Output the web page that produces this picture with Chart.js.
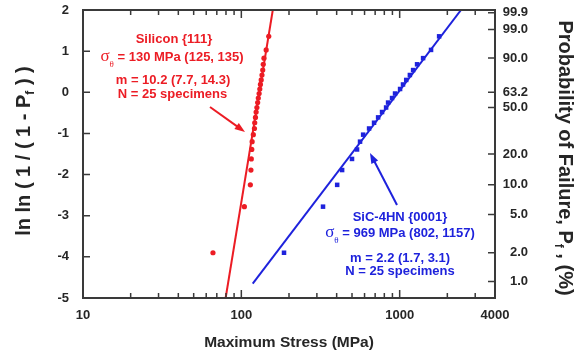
<!DOCTYPE html>
<html>
<head>
<meta charset="utf-8">
<script src="https://cdn.jsdelivr.net/npm/chart.js@4.4.1/dist/chart.umd.min.js"></script>
<style>
  html, body { margin: 0; padding: 0; background: #fff; }
  #wrap { width: 579px; height: 356px; position: relative; }
</style>
</head>
<body>
<div id="wrap"><canvas id="weibull"></canvas></div>
<script>
// Weibull plotting positions ln ln(1/(1-Pf)) (25 specimens)
const rankY = [-3.90, -2.78, -2.25, -1.89, -1.62, -1.39, -1.20, -1.03, -0.88, -0.74,
               -0.61, -0.48, -0.37, -0.25, -0.14, -0.03, 0.08, 0.19, 0.30, 0.42,
               0.54, 0.68, 0.83, 1.03, 1.36];

// Silicon {111} strengths (MPa)
const siliconStress = [66.2, 104.5, 114, 115, 115.6, 116.4, 117, 119, 121, 121.5,
                       122.8, 124, 125.4, 126.8, 128, 129.5, 130.8, 132, 133.5, 135,
                       136.5, 137.5, 139, 143.5, 149];

// SiC-4HN {0001} strengths (MPa)
const sicStress = [186, 328, 403, 433, 500, 538, 562, 588, 641, 689,
                   731, 774, 821, 845, 895, 935, 1006, 1050, 1100, 1160,
                   1216, 1288, 1406, 1578, 1775];

// fitted Weibull lines (end points)
const siliconFitX = [79.6, 158];
const siliconFitY = [-5, 2];
const sicFitX = [118, 2440];
const sicFitY = [-4.65, 2];

// axis ticks
const xTickValues = [10, 20, 30, 40, 50, 60, 70, 80, 90, 100, 200, 300, 400, 500, 600, 700, 800, 900, 1000, 2000, 3000, 4000];
const xTickLabels = ['10', '', '', '', '', '', '', '', '', '100', '', '', '', '', '', '', '', '', '1000', '', '', '4000'];
const probTickPos = [1.933, 1.527, 0.834, 0.0, -0.367, -1.500, -2.250, -2.970, -3.902, -4.600];
const probTickLabels = ['99.9', '99.0', '90.0', '63.2', '50.0', '20.0', '10.0', '5.0', '2.0', '1.0'];

const RED = '#ec1c24';
const BLUE = '#1e22dc';
const INK = '#262626';
const SANS = "'Liberation Sans', Arial, sans-serif";
const SERIF = "'Liberation Serif', 'Times New Roman', serif";

const toPoints = (xs, ys) => xs.map((x, i) => ({ x: x, y: ys[i] }));

// draw a line of text made of several runs (for subscripts)
function drawRuns(ctx, runs, cx, cy, color) {
    let total = 0;
    runs.forEach(r => { ctx.font = r.font; total += ctx.measureText(r.text).width; });
    let x = cx - total / 2;
    ctx.fillStyle = color;
    ctx.textAlign = 'left';
    ctx.textBaseline = 'middle';
    runs.forEach(r => {
        ctx.font = r.font;
        ctx.fillText(r.text, x, cy + (r.dy || 0));
        x += ctx.measureText(r.text).width;
    });
}

function drawArrow(ctx, x1, y1, x2, y2, color) {
    const ang = Math.atan2(y2 - y1, x2 - x1);
    const head = 11;
    ctx.strokeStyle = color;
    ctx.fillStyle = color;
    ctx.lineWidth = 2;
    ctx.beginPath();
    ctx.moveTo(x1, y1);
    ctx.lineTo(x2 - Math.cos(ang) * head * 0.8, y2 - Math.sin(ang) * head * 0.8);
    ctx.stroke();
    ctx.beginPath();
    ctx.moveTo(x2, y2);
    ctx.lineTo(x2 - head * Math.cos(ang - 0.35), y2 - head * Math.sin(ang - 0.35));
    ctx.lineTo(x2 - head * Math.cos(ang + 0.35), y2 - head * Math.sin(ang + 0.35));
    ctx.closePath();
    ctx.fill();
}

const extras = {
    id: 'extras',
    afterDraw(chart) {
        const { ctx, chartArea: a, scales } = chart;
        ctx.save();

        // frame
        ctx.strokeStyle = '#3a3a3a';
        ctx.lineWidth = 2;
        ctx.strokeRect(a.left, a.top, a.right - a.left, a.bottom - a.top);

        // inward tick marks
        ctx.lineWidth = 1.5;
        ctx.beginPath();
        scales.x.ticks.forEach(t => {
            const px = scales.x.getPixelForValue(t.value);
            const len = t.label ? 8 : 5;
            ctx.moveTo(px, a.bottom); ctx.lineTo(px, a.bottom - len);
            ctx.moveTo(px, a.top); ctx.lineTo(px, a.top + len);
        });
        scales.y.ticks.forEach(t => {
            const py = scales.y.getPixelForValue(t.value);
            ctx.moveTo(a.left, py); ctx.lineTo(a.left + 7, py);
        });
        scales.y2.ticks.forEach(t => {
            const py = scales.y2.getPixelForValue(t.value);
            ctx.moveTo(a.right, py); ctx.lineTo(a.right - 7, py);
        });
        ctx.stroke();

        const bold = size => `bold ${size}px ${SANS}`;

        // Silicon annotation
        drawRuns(ctx, [{ text: 'Silicon {111}', font: bold(13) }], 174, 39, RED);
        drawRuns(ctx, [
            { text: 'σ', font: `17px ${SERIF}` },
            { text: 'θ', font: `9px ${SERIF}`, dy: 8 },
            { text: ' = 130 MPa (125, 135)', font: bold(13) }
        ], 172, 57, RED);
        drawRuns(ctx, [{ text: 'm = 10.2 (7.7, 14.3)', font: bold(13) }], 173, 80, RED);
        drawRuns(ctx, [{ text: 'N = 25 specimens', font: bold(13) }], 172.5, 94, RED);
        drawArrow(ctx, 210, 107, 245, 132, RED);

        // SiC annotation
        drawRuns(ctx, [{ text: 'SiC-4HN {0001}', font: bold(13) }], 400, 217, BLUE);
        drawRuns(ctx, [
            { text: 'σ', font: `17px ${SERIF}` },
            { text: 'θ', font: `9px ${SERIF}`, dy: 8 },
            { text: ' = 969 MPa (802, 1157)', font: bold(13) }
        ], 400, 233, BLUE);
        drawRuns(ctx, [{ text: 'm = 2.2 (1.7, 3.1)', font: bold(13) }], 400, 258, BLUE);
        drawRuns(ctx, [{ text: 'N = 25 specimens', font: bold(13) }], 400, 271, BLUE);
        drawArrow(ctx, 397, 205, 370, 153, BLUE);

        // axis titles
        drawRuns(ctx, [{ text: 'Maximum Stress (MPa)', font: bold(15.5) }], 289, 343, INK);

        ctx.save();
        ctx.translate(24, 151);
        ctx.rotate(-Math.PI / 2);
        drawRuns(ctx, [
            { text: 'ln ln ( 1 / ( 1 - P', font: bold(20) },
            { text: 'f', font: bold(12), dy: 7 },
            { text: ' ) )', font: bold(20) }
        ], 0, 0, INK);
        ctx.restore();

        ctx.save();
        ctx.translate(565, 158);
        ctx.rotate(Math.PI / 2);
        drawRuns(ctx, [
            { text: 'Probability of Failure, P', font: bold(20) },
            { text: 'f', font: bold(12), dy: 7 },
            { text: ' , (%)', font: bold(20) }
        ], 0, 0, INK);
        ctx.restore();

        ctx.restore();
    }
};

const tickFont = { family: SANS, size: 13, weight: 'bold' };
const noPad = s => { s.paddingTop = 0; s.paddingBottom = 0; s.paddingLeft = 0; s.paddingRight = 0; };

new Chart(document.getElementById('weibull'), {
    type: 'scatter',
    data: {
        datasets: [
            {
                label: 'Silicon fit',
                data: toPoints(siliconFitX, siliconFitY),
                showLine: true,
                borderColor: RED,
                borderWidth: 2,
                pointRadius: 0
            },
            {
                label: 'SiC fit',
                data: toPoints(sicFitX, sicFitY),
                showLine: true,
                borderColor: BLUE,
                borderWidth: 2,
                pointRadius: 0
            },
            {
                label: 'Silicon {111}',
                data: toPoints(siliconStress, rankY),
                backgroundColor: RED,
                borderColor: RED,
                pointStyle: 'circle',
                pointRadius: 2.6,
                borderWidth: 0
            },
            {
                label: 'SiC-4HN {0001}',
                data: toPoints(sicStress, rankY),
                backgroundColor: BLUE,
                borderColor: BLUE,
                pointStyle: 'rect',
                pointRadius: 3.2,
                borderWidth: 0
            }
        ]
    },
    options: {
        responsive: true,
        maintainAspectRatio: false,
        animation: false,
        layout: { padding: { top: 10, left: 0, right: 51, bottom: 0 } },
        plugins: {
            legend: { display: false },
            tooltip: { enabled: false }
        },
        scales: {
            x: {
                type: 'logarithmic',
                position: 'bottom',
                min: 10,
                max: 4000,
                afterBuildTicks: s => { s.ticks = xTickValues.map(v => ({ value: v })); },
                afterFit: s => { s.height = 58; noPad(s); },
                grid: { display: false, drawTicks: false },
                border: { display: false },
                ticks: {
                    autoSkip: false,
                    maxRotation: 0,
                    padding: 10,
                    color: INK,
                    font: tickFont,
                    callback: v => xTickLabels[xTickValues.indexOf(v)]
                }
            },
            y: {
                type: 'linear',
                position: 'left',
                min: -5,
                max: 2,
                afterFit: s => { s.width = 83; noPad(s); },
                grid: { display: false, drawTicks: false },
                border: { display: false },
                ticks: { stepSize: 1, padding: 14, color: INK, font: tickFont }
            },
            y2: {
                type: 'linear',
                position: 'right',
                min: -5,
                max: 2,
                afterBuildTicks: s => { s.ticks = probTickPos.map(v => ({ value: v })); },
                afterFit: s => { s.width = 33; noPad(s); },
                grid: { display: false, drawTicks: false },
                border: { display: false },
                ticks: {
                    autoSkip: false,
                    padding: 8,
                    crossAlign: 'far',
                    color: INK,
                    font: tickFont,
                    callback: (v, i) => probTickLabels[i]
                }
            }
        }
    },
    plugins: [extras]
});
</script>
</body>
</html>
